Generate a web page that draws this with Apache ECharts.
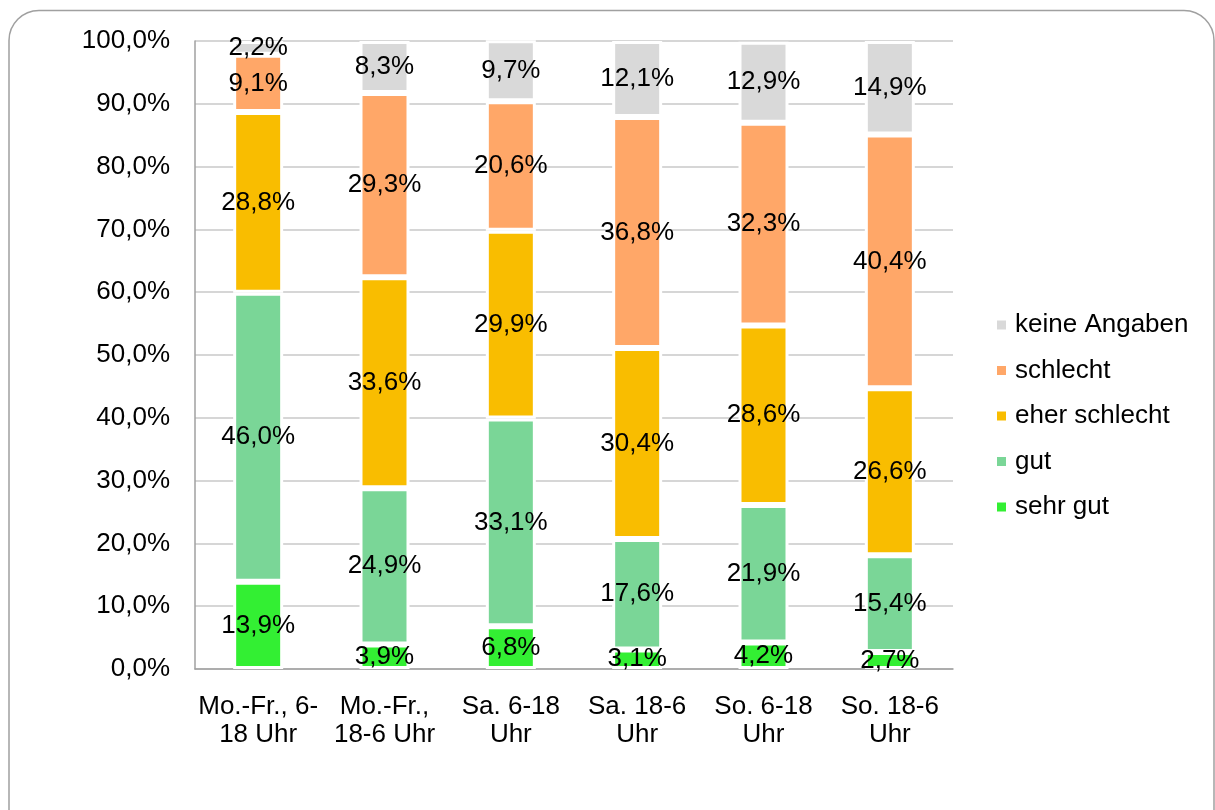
<!DOCTYPE html>
<html>
<head>
<meta charset="utf-8">
<script src="https://cdn.jsdelivr.net/npm/echarts@6/dist/echarts.min.js"></script>
<style>
  html, body { margin: 0; padding: 0; background: #fff; }
  #chart { width: 1215px; height: 810px; }
</style>
</head>
<body>
<div id="chart"></div>
<script>
// Kategorien (x-Achse)
const categories = ['Mo.-Fr., 6-\n18 Uhr', 'Mo.-Fr.,\n18-6 Uhr', 'Sa. 6-18\nUhr', 'Sa. 18-6\nUhr', 'So. 6-18\nUhr', 'So. 18-6\nUhr']

// Werte in Prozent, von unten nach oben gestapelt
const sehrGut = [13.9, 3.9, 6.8, 3.1, 4.2, 2.7]
const gut = [46.0, 24.9, 33.1, 17.6, 21.9, 15.4]
const eherSchlecht = [28.8, 33.6, 29.9, 30.4, 28.6, 26.6]
const schlecht = [9.1, 29.3, 20.6, 36.8, 32.3, 40.4]
const keineAngaben = [2.2, 8.3, 9.7, 12.1, 12.9, 14.9]

const legendOrder = ['keine Angaben', 'schlecht', 'eher schlecht', 'gut', 'sehr gut']

const font = '"Liberation Sans", Arial, sans-serif'
const pct = v => v.toFixed(1).replace('.', ',') + '%'

const makeSeries = (name, data, color) => ({
    name: name,
    type: 'bar',
    stack: 'gesamt',
    barWidth: 50,
    data: data,
    itemStyle: {
        color: color,
        borderColor: '#fff',
        borderWidth: 3
    },
    label: {
        show: true,
        position: 'inside',
        color: '#000',
        fontFamily: font,
        fontSize: 26,
        formatter: p => pct(p.value)
    },
    emphasis: { disabled: true }
})

const chart = echarts.init(document.getElementById('chart'))
chart.setOption({
    animation: false,
    backgroundColor: '#fff',
    graphic: [{
        type: 'rect',
        shape: { x: 9, y: 10.5, width: 1205, height: 840, r: 30 },
        style: { fill: 'none', stroke: '#a0a0a0', lineWidth: 1.5 },
        z: -10
    }],
    grid: {
        left: 195,
        right: 262,
        top: 41,
        bottom: 141
    },
    legend: {
        orient: 'vertical',
        left: 997,
        top: 312,
        padding: 0,
        data: legendOrder,
        icon: 'rect',
        itemWidth: 9,
        itemHeight: 9,
        itemGap: 19.5,
        itemStyle: { borderWidth: 0 },
        textStyle: {
            fontFamily: font,
            fontSize: 26,
            lineHeight: 26,
            color: '#000',
            padding: [0, 0, 0, 4]
        }
    },
    xAxis: {
        type: 'category',
        data: categories,
        axisLine: { lineStyle: { color: '#a0a0a0', width: 1.5 } },
        axisTick: { show: false },
        axisLabel: {
            fontFamily: font,
            fontSize: 26,
            lineHeight: 28,
            color: '#000',
            margin: 24,
            interval: 0
        }
    },
    yAxis: {
        type: 'value',
        min: 0,
        max: 100,
        interval: 10,
        axisLine: { show: true, lineStyle: { color: '#a0a0a0', width: 1.5 } },
        axisTick: { show: false },
        splitLine: { lineStyle: { color: '#c8c8c8', width: 1.5 } },
        axisLabel: {
            fontFamily: font,
            fontSize: 26,
            color: '#000',
            margin: 25,
            formatter: v => pct(v)
        }
    },
    series: [
        makeSeries('sehr gut', sehrGut, '#33ef33'),
        makeSeries('gut', gut, '#7ad697'),
        makeSeries('eher schlecht', eherSchlecht, '#f9bd00'),
        makeSeries('schlecht', schlecht, '#ffa768'),
        makeSeries('keine Angaben', keineAngaben, '#d9d9d9')
    ]
})
</script>
</body>
</html>
